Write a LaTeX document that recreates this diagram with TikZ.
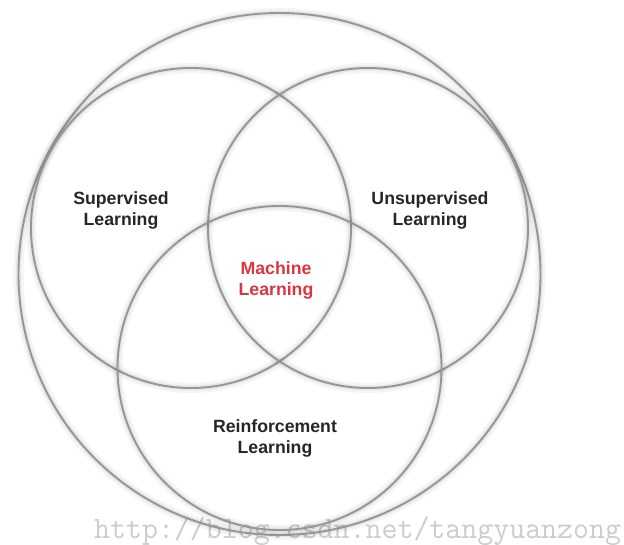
\documentclass[tikz,border=0pt]{standalone}
\usepackage{fontspec}
\setmainfont{Liberation Sans}
\usepackage{tikz}
\usetikzlibrary{positioning}
\definecolor{ringgray}{RGB}{150,150,150}
\definecolor{mlred}{RGB}{217,54,62}

\begin{document}
\begin{tikzpicture}[
        x=1pt, y=-1pt,
        ring/.style={circle, draw=ringgray, line width=1.9pt, inner sep=0pt,
            preaction={draw=black, opacity=0.04, line width=10pt},
            preaction={draw=black, opacity=0.06, line width=5pt}},
        field/.style={align=center, font=\bfseries\fontsize{17.7}{21}\selectfont, text=black!85}
    ]
        \useasboundingbox (0,0) rectangle (624,545);

        % watermark sits under the rings
        \node[text=black!20, font=\ttfamily\fontsize{31}{33}\selectfont, anchor=base west,
              inner sep=0pt] (mark) at (94,538) {http://blog.csdn.net/tangyuanzong};

        % outer ring and the three overlapping ones
        \foreach \n/\x/\y/\r in {all/279.5/274/261, sup/191/228/160,
                                 unsup/368/228/160, rein/279.5/368/162}
            \node[ring, minimum size=2*\r] (\n) at (\x,\y) {};

        \node[field] (suptext) at (121,210) {Supervised\\Learning};
        \node[field] (unsuptext) at (430,210) {Unsupervised\\Learning};
        \node[field, text=mlred] (ml) at (276,280) {Machine\\Learning};
        \node[field] (reintext) at (275,438) {Reinforcement\\Learning};
    \end{tikzpicture}
\end{document}
